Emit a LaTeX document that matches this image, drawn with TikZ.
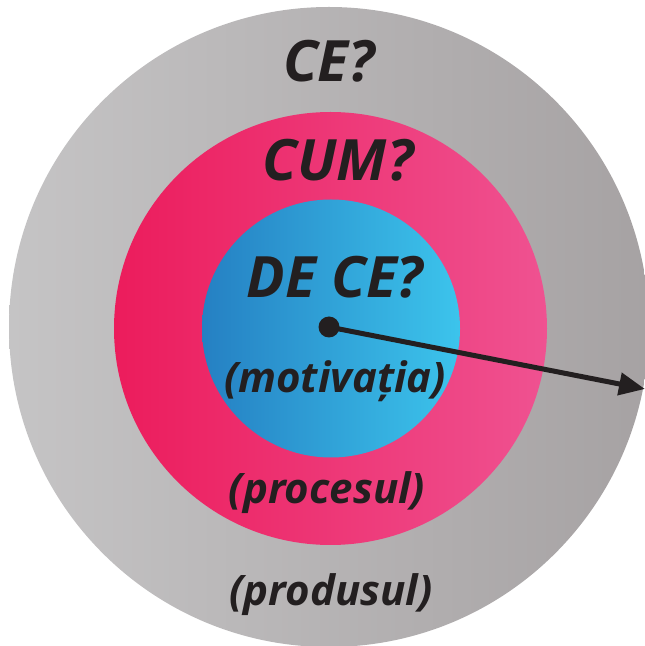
\documentclass[tikz,border=0pt]{standalone}
\usepackage{fontspec}
\setmainfont{Open Sans}
\usepackage{tikz}
\usetikzlibrary{arrows.meta}
\definecolor{ink}{HTML}{231F20}
\definecolor{greyl}{HTML}{C5C4C5}
\definecolor{greyr}{HTML}{A6A2A3}
\definecolor{pinkl}{HTML}{EC1C5C}
\definecolor{pinkr}{HTML}{EF5291}
\definecolor{bluel}{HTML}{2580C3}
\definecolor{bluer}{HTML}{3CC4EC}
\tikzset{
  ring/.style={circle, inner sep=0pt, draw=none},
  question/.style={anchor=base, text=ink, font=\fontsize{57}{60}\selectfont\bfseries\itshape},
  answer/.style={anchor=base, text=ink, font=\fontsize{42}{46}\selectfont\bfseries\itshape}
}

\begin{document}
\begin{tikzpicture}[x=1pt, y=1pt]
  \useasboundingbox (0,0) rectangle (645,646);
  % the three rings
  \node (ce)    [ring, minimum size=640pt, left color=greyl, right color=greyr] at (329,319)   {};
  \node (cum)   [ring, minimum size=433pt, left color=pinkl, right color=pinkr] at (330.5,317.5) {};
  \node (dece)  [ring, minimum size=258pt, left color=bluel, right color=bluer] at (331,317.5) {};
  % labels
  \node (qce)   [question] at (329,564) {CE?};
  \node (qcum)  [question] at (338,465) {CUM?};
  \node (qdece) [question] at (335,348) {DE CE?};
  \node (amot)  [answer]   at (335,253) {(motivația)};
  \node (aproc) [answer]   at (327,142) {(procesul)};
  \node (aprod) [answer]   at (331,41)  {(produsul)};
  % radius
  \node (dot)   [circle, fill=ink, inner sep=0pt, minimum size=21pt] at (329,319) {};
  \coordinate (tip) at (645,257);
  \draw [ink, line width=5pt, -{Triangle[length=26pt,width=22pt]}] (dot.center) -- (tip);
\end{tikzpicture}
\end{document}
